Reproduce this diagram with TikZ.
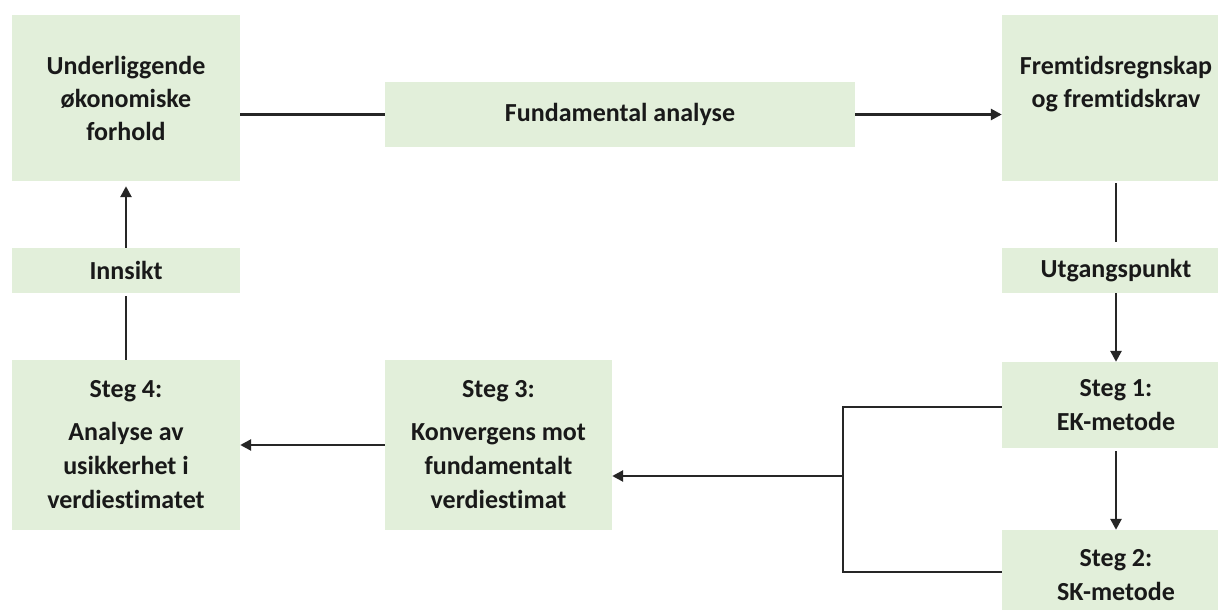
\documentclass[tikz,border=0pt]{standalone}
\usepackage{fontspec}
\setmainfont{Carlito}[Ligatures=NoCommon,RawFeature=-liga]
\usetikzlibrary{arrows.meta}
\definecolor{boxfill}{RGB}{226,239,218}
\definecolor{linec}{RGB}{38,38,38}
\definecolor{txt}{RGB}{25,25,25}
\begin{document}
\begin{tikzpicture}[x=1pt,y=-1pt,
  box/.style={rectangle, fill=boxfill, draw=none, inner sep=0pt, align=center,
    text=txt, font=\fontsize{26}{33}\selectfont\bfseries},
  stegbox/.style={box, font=\fontsize{26}{34}\selectfont\bfseries},
  conn/.style={draw=linec, line width=2.6pt},
  arr/.style={conn, -{Triangle[length=11pt,width=11pt]}}]
\useasboundingbox (0,0) rectangle (1218,610);
\fill[white] (0,0) rectangle (1218,610);
\node[box, minimum width=228pt, minimum height=166pt] (U) at (126,98) {Underliggende\\økonomiske\\forhold};
\node[box, minimum width=470pt, minimum height=65pt] (F) at (620,114.5) {Fundamental analyse};
\node[box, minimum width=228pt, minimum height=166pt] (Fr) at (1116,98) {Fremtidsregnskap\\og fremtidskrav\\\phantom{X}};
\node[box, minimum width=228pt, minimum height=45pt] (I) at (126,270.5) {Innsikt};
\node[box, minimum width=228pt, minimum height=45pt] (Ut) at (1116,270.5) {Utgangspunkt};
\node[stegbox, minimum width=228pt, minimum height=170pt] (S4) at (126,445) {Steg 4:\\[9pt]Analyse av\\usikkerhet i\\verdiestimatet};
\node[stegbox, minimum width=227pt, minimum height=170pt] (S3) at (498.5,445) {Steg 3:\\[9pt]Konvergens mot\\fundamentalt\\verdiestimat};
\node[stegbox, minimum width=228pt, minimum height=86pt] (S1) at (1116,405) {Steg 1:\\EK-metode};
\node[stegbox, minimum width=228pt, minimum height=90pt] (S2) at (1116,575) {Steg 2:\\SK-metode};
\coordinate (j) at (843,476);
\draw[conn] (F.west -| U.east) -- (F.west);
\draw[arr] (F.east) -- (F.east -| Fr.west);
\draw[conn, shorten <=2pt, shorten >=6pt] (Fr.south) -- (Ut.north);
\draw[arr] (Ut.south) -- (S1.north);
\draw[arr, shorten <=3pt] (S1.south) -- (S2.north);
\draw[conn] (S1.west |- 0,407) -| (j) |- (S2.west |- 0,572);
\draw[arr] (j) -- (j -| S3.east);
\draw[arr] (S3.west) -- (S4.east);
\draw[conn, shorten >=3pt] (S4.north) -- (I.south);
\draw[arr, shorten >=5pt] (I.north) -- (U.south);
\end{tikzpicture}
\end{document}
